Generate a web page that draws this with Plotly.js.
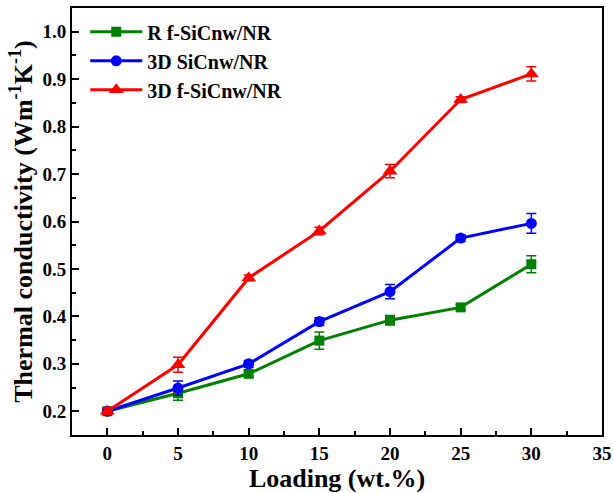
<!DOCTYPE html>
<html>
<head>
<meta charset="utf-8">
<script src="https://cdn.plot.ly/plotly-3.0.1.min.js"></script>
<style>html,body{margin:0;padding:0;background:#fff;}#chart{width:613px;height:493px;}</style>
</head>
<body>
<div id="chart"></div>
<script>
const loading = [0, 5, 10, 15, 20, 25, 30];
const rfSiC = [0.200, 0.238, 0.279, 0.349, 0.392, 0.419, 0.510];
const rfSiCErr = [0.006, 0.015, 0.007, 0.018, 0.010, 0.006, 0.018];
const d3SiC = [0.200, 0.249, 0.300, 0.389, 0.452, 0.565, 0.596];
const d3SiCErr = [0.006, 0.015, 0.007, 0.008, 0.015, 0.007, 0.021];
const d3fSiC = [0.200, 0.298, 0.481, 0.580, 0.706, 0.857, 0.911];
const d3fSiCErr = [0.007, 0.016, 0.006, 0.008, 0.014, 0.006, 0.015];
const names = ['R f-SiCnw/NR', '3D SiCnw/NR', '3D f-SiCnw/NR'];
const xTicks = [0, 5, 10, 15, 20, 25, 30, 35];
const yTicks = [0.2, 0.3, 0.4, 0.5, 0.6, 0.7, 0.8, 0.9, 1.0];

const font = 'Liberation Serif, Times New Roman, serif';
function tr(y, err, name, color, symbol, size) {
  return {
    x: loading, y: y, name: name, type: 'scatter', mode: 'lines+markers',
    line: {color: color, width: 3},
    marker: {color: color, symbol: symbol, size: size},
    error_y: {type: 'data', array: err, visible: true, color: color, thickness: 1.5, width: 5}
  };
}
const data = [
  tr(rfSiC, rfSiCErr, names[0], '#008000', 'square', 10),
  tr(d3SiC, d3SiCErr, names[1], '#0000ff', 'circle', 11),
  tr(d3fSiC, d3fSiCErr, names[2], '#ff0000', 'triangle-up', 13)
];
const layout = {
  width: 613, height: 493,
  margin: {l: 72, r: 11, t: 8, b: 58},
  paper_bgcolor: '#fff', plot_bgcolor: '#fff',
  font: {family: font, color: '#000'},
  showlegend: true,
  legend: {x: 0.025, y: 0.99, xanchor: 'left', yanchor: 'top', bgcolor: 'rgba(0,0,0,0)',
           itemwidth: 52,
           font: {family: font, size: 20, color: '#000', weight: 'bold'}, tracegroupgap: 0},
  xaxis: {
    range: [-2.5, 35], tickvals: xTicks, ticktext: xTicks.map(String),
    ticks: 'inside', ticklen: 7, tickwidth: 2, tickcolor: '#000',
    minor: {dtick: 2.5, tick0: 0, ticks: 'inside', ticklen: 4, tickwidth: 2, tickcolor: '#000'},
    showline: true, linewidth: 2, linecolor: '#000', mirror: true,
    showgrid: false, zeroline: false,
    tickfont: {family: font, size: 19, weight: 'bold'},
    title: {text: 'Loading (wt.%)', font: {family: font, size: 26, weight: 'bold'}, standoff: 2}
  },
  yaxis: {
    range: [0.15, 1.05], tickvals: yTicks, ticktext: yTicks.map(v => v.toFixed(1)),
    ticks: 'inside', ticklen: 7, tickwidth: 2, tickcolor: '#000',
    minor: {dtick: 0.05, tick0: 0, ticks: 'inside', ticklen: 4, tickwidth: 2, tickcolor: '#000'},
    showline: true, linewidth: 2, linecolor: '#000', mirror: true,
    showgrid: false, zeroline: false,
    tickfont: {family: font, size: 19, weight: 'bold'},
    title: {text: 'Thermal conductivity (Wm<sup>-1</sup>K<sup>-1</sup>)', font: {family: font, size: 26, weight: 'bold'}, standoff: 2}
  }
};
Plotly.newPlot('chart', data, layout, {displayModeBar: false, staticPlot: true});
</script>
</body>
</html>
